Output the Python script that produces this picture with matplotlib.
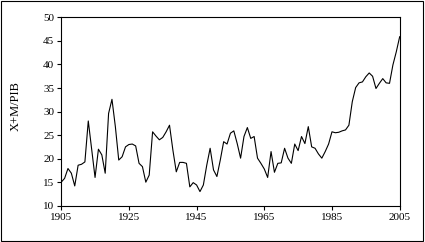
import matplotlib
matplotlib.use("Agg")
import matplotlib.pyplot as plt
from matplotlib.patches import Rectangle

### Data ###

years = list(range(1905, 2006))
ratio = [
  15.0, 15.8, 17.9, 16.9, 14.2, 18.6, 18.8, 19.3, 28.0, 22.0,  # 1905-1914
  16.0, 22.0, 20.8, 16.9, 29.6, 32.6, 26.8, 19.7, 20.4, 22.5,  # 1915-1924
  23.0, 23.1, 22.7, 19.0, 18.3, 15.0, 16.5, 25.7, 24.8, 24.0,  # 1925-1934
  24.5, 25.7, 27.1, 21.8, 17.2, 19.2, 19.2, 19.0, 14.0, 14.9,  # 1935-1944
  14.4, 13.0, 14.4, 18.6, 22.2, 17.6, 16.2, 19.7, 23.6, 23.1,  # 1945-1954
  25.4, 25.9, 23.2, 20.1, 24.7, 26.6, 24.3, 24.7, 20.1, 19.0,  # 1955-1964
  17.8, 16.0, 21.5, 17.1, 19.0, 19.1, 22.2, 20.1, 19.0, 23.1,  # 1965-1974
  21.7, 24.7, 23.2, 26.8, 22.5, 22.2, 21.0, 20.1, 21.5, 23.1,  # 1975-1984
  25.7, 25.5, 25.6, 25.9, 26.1, 27.1, 32.1, 35.1, 36.1, 36.3,  # 1985-1994
  37.4, 38.2, 37.5, 34.9, 36.0, 37.0, 36.1, 36.0, 39.9, 42.7,  # 1995-2004
  45.9,                                                        # 2005
]
x_ticks = [1905, 1925, 1945, 1965, 1985, 2005]
y_ticks = list(range(10, 51, 5))

### Plot ###

plt.rcParams['font.family'] = ['Liberation Serif', 'DejaVu Serif']

fig = plt.figure(figsize=(4.25, 2.42), dpi=100)
ax = fig.add_axes([0.144, 0.150, 0.798, 0.778])

ax.plot(years, ratio, color='black', linewidth=0.8)

ax.set_xlim(1905, 2005.2)
ax.set_ylim(10, 50)
ax.set_xticks(x_ticks)
ax.set_yticks(y_ticks)
ax.tick_params(direction='out', length=3, width=0.8, labelsize=8, pad=2)
ax.set_ylabel("X+M/PIB", fontsize=9)
ax.yaxis.set_label_coords(-0.115, 0.53)
for s in ax.spines.values():
  s.set_linewidth(0.8)

# outer frame round the whole figure
fig.patches.append(Rectangle((0.003, 0.005), 0.993, 0.99, transform=fig.transFigure,
                             fill=False, edgecolor='black', linewidth=0.8))

plt.savefig("out.png", dpi=100)
